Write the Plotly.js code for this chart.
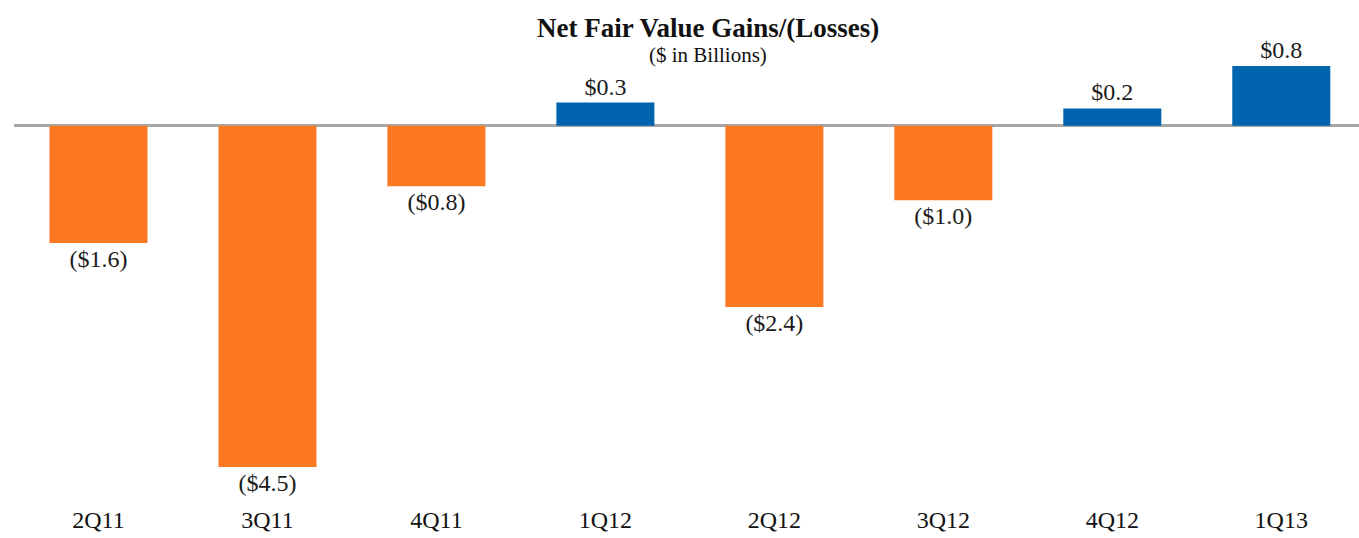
<!DOCTYPE html>
<html>
<head>
<meta charset="utf-8">
<script src="https://cdn.plot.ly/plotly-3.0.1.min.js"></script>
<style>html,body{margin:0;padding:0;background:#fff;}#chart{width:1359px;height:538px;}</style>
</head>
<body>
<div id="chart"></div>
<script>
const categories = ["2Q11","3Q11","4Q11","1Q12","2Q12","3Q12","4Q12","1Q13"];
const values = [-1.57, -4.57, -0.81, 0.31, -2.43, -1.0, 0.23, 0.8];
const labels = ["($1.6)","($4.5)","($0.8)","$0.3","($2.4)","($1.0)","$0.2","$0.8"];
const colors = values.map(v => v < 0 ? "#FD7823" : "#0064AF");
const SERIF = "Liberation Serif, Times New Roman, serif";

const trace = {
  type: "bar",
  x: categories,
  y: values,
  text: labels,
  textposition: "outside",
  textfont: {family: SERIF, size: 24, color: "#1a1a1a"},
  constraintext: "none",
  cliponaxis: false,
  marker: {color: colors, line: {width: 0}},
  width: 0.58,
  hoverinfo: "none"
};

const layout = {
  width: 1359, height: 538,
  margin: {l: 13.5, r: 0, t: 45, b: 35},
  paper_bgcolor: "#fff", plot_bgcolor: "#fff",
  showlegend: false,
  xaxis: {
    type: "category",
    range: [-0.5, 7.46],
    showgrid: false, zeroline: false, showline: false, ticks: "",
    tickfont: {family: SERIF, size: 24, color: "#111"},
    fixedrange: true
  },
  yaxis: {
    range: [-5.053, 1.08],
    showgrid: false, showticklabels: false, ticks: "", showline: false,
    zeroline: true, zerolinecolor: "#A6A6A6", zerolinewidth: 2.5,
    fixedrange: true
  },
  annotations: [
    {text: "<b>Net Fair Value Gains/(Losses)</b>", xref: "paper", yref: "paper", x: 0.516, y: 1, yshift: 17,
     showarrow: false, xanchor: "center", yanchor: "middle",
     font: {family: SERIF, size: 27, color: "#111"}},
    {text: "($ in Billions)", xref: "paper", yref: "paper", x: 0.516, y: 1, yshift: -10,
     showarrow: false, xanchor: "center", yanchor: "middle",
     font: {family: SERIF, size: 21, color: "#111"}}
  ]
};

Plotly.newPlot("chart", [trace], layout, {staticPlot: true, displayModeBar: false});
</script>
</body>
</html>
